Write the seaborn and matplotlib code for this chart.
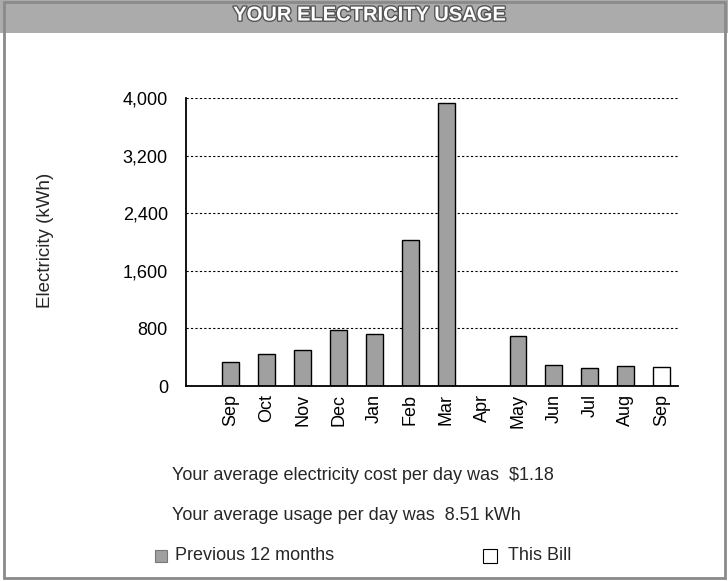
import pandas as pd
import seaborn as sns
import matplotlib.pyplot as plt
import matplotlib.patheffects as pe
from matplotlib.patches import Rectangle

months = ['Sep', 'Oct', 'Nov', 'Dec', 'Jan', 'Feb', 'Mar', 'Apr', 'May', 'Jun', 'Jul', 'Aug', 'Sep']
usage = [340, 450, 500, 780, 720, 2030, 3930, 0, 700, 290, 250, 285, 265]
kind = ['Previous 12 months'] * 12 + ['This Bill']
y_ticks = [0, 800, 1600, 2400, 3200, 4000]
y_tick_labels = ['0', '800', '1,600', '2,400', '3,200', '4,000']


def build_frame():
    df = pd.DataFrame({'pos': range(len(months)), 'kwh': usage, 'kind': kind})
    return df


def plot_usage(df):
    sns.set_style('white')
    plt.rcParams['font.family'] = ['Liberation Sans', 'DejaVu Sans']

    fig = plt.figure(figsize=(7.28, 5.81), dpi=100)
    ax = fig.add_axes([0.2555, 0.3356, 0.931 - 0.2555, 0.831 - 0.3356])

    sns.barplot(data=df, x='pos', y='kwh', hue='kind', dodge=False, width=0.47,
                palette={'Previous 12 months': '#a0a0a0', 'This Bill': 'white'},
                edgecolor='black', linewidth=1, legend=False, ax=ax)

    ax.set_xlim(-1.25, 12.45)
    ax.set_ylim(0, 4000)
    ax.set_yticks(y_ticks, y_tick_labels)
    ax.set_xticks(range(len(months)), months, rotation=90)
    ax.tick_params(axis='both', length=0, labelsize=13, colors='black')
    ax.tick_params(axis='y', pad=13)
    ax.tick_params(axis='x', pad=6)
    ax.set_xlabel('')
    ax.set_ylabel('')
    for y in y_ticks[1:]:
        ax.axhline(y, color='black', linestyle=(0, (2, 2)), linewidth=0.8, zorder=0)
    for side in ['top', 'right']:
        ax.spines[side].set_visible(False)
    for side in ['left', 'bottom']:
        ax.spines[side].set_color('black')
        ax.spines[side].set_linewidth(1.3)

    # header band and frame
    fig.patches.append(Rectangle((0, 0.943), 1, 0.057, transform=fig.transFigure,
                                 facecolor='#ababab', edgecolor='none', zorder=0))
    fig.patches.append(Rectangle((0.006, 0.006), 0.99, 0.99, transform=fig.transFigure,
                                 facecolor='none', edgecolor='#8a8a8a', linewidth=2, zorder=1))
    fig.text(0.508, 1 - 15 / 581, 'YOUR ELECTRICITY USAGE', ha='center', va='center',
             fontsize=14.5, fontweight='bold', color='white',
             path_effects=[pe.withStroke(linewidth=2, foreground='#555555')])

    fig.text(0.062, 0.587, 'Electricity (kWh)', rotation=90, ha='center', va='center', fontsize=13.5)

    fig.text(0.236, 1 - 476 / 581, 'Your average electricity cost per day was  $1.18',
             ha='left', va='center', fontsize=13)
    fig.text(0.236, 1 - 516 / 581, 'Your average usage per day was  8.51 kWh',
             ha='left', va='center', fontsize=13)

    # legend drawn by hand
    fig.patches.append(Rectangle((155 / 728, 1 - 562 / 581), 12 / 728, 12 / 581, transform=fig.transFigure,
                                 facecolor='#a0a0a0', edgecolor='#777777', linewidth=0.8))
    fig.text(175 / 728, 1 - 555 / 581, 'Previous 12 months', ha='left', va='center', fontsize=13)
    fig.patches.append(Rectangle((483 / 728, 1 - 563 / 581), 14 / 728, 14 / 581, transform=fig.transFigure,
                                 facecolor='white', edgecolor='black', linewidth=0.8))
    fig.text(508 / 728, 1 - 555 / 581, 'This Bill', ha='left', va='center', fontsize=13)

    fig.savefig('out.png', dpi=100)


def main():
    df = build_frame()
    plot_usage(df)


if __name__ == "__main__":
    main()
